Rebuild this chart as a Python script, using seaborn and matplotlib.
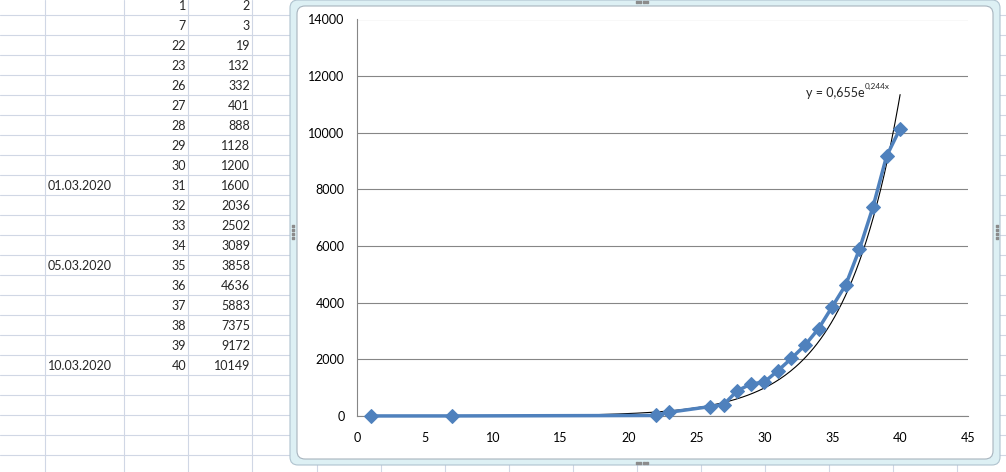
import numpy as np
import matplotlib
matplotlib.use('Agg')
import matplotlib.pyplot as plt
from matplotlib.patches import FancyBboxPatch
import seaborn as sns

# data from the sheet
days = [1, 7, 22, 23, 26, 27, 28, 29, 30, 31, 32, 33, 34, 35, 36, 37, 38, 39, 40]
cases = [2, 3, 19, 132, 332, 401, 888, 1128, 1200, 1600, 2036, 2502, 3089,
         3858, 4636, 5883, 7375, 9172, 10149]
dates = {31: '01.03.2020', 35: '05.03.2020', 40: '10.03.2020'}

# exponential trendline shown on the chart
fit_a = 0.655
fit_b = 0.244
eq_main = 'y = 0,655e'
eq_sup = '0,244x'

x_ticks = list(range(0, 50, 5))
y_ticks = list(range(0, 16000, 2000))

sns.set_style('white')
plt.rcParams['font.family'] = ['Lato', 'DejaVu Sans']

W, H = 1006, 472
fig = plt.figure(figsize=(W / 100, H / 100), dpi=100)

# spreadsheet behind the chart (pixel coordinates)
bg = fig.add_axes([0, 0, 1, 1])
bg.set_xlim(0, W)
bg.set_ylim(H, 0)
bg.axis('off')
grid_col = '#D0D7E5'
for k in range(24):
    bg.axhline(15 + 20 * k, color=grid_col, lw=0.8)
for cx in [45, 124, 188, 252, 317, 381, 445, 509, 573, 637, 701, 765, 829, 893, 957, 1021]:
    bg.axvline(cx, color=grid_col, lw=0.8)

fs = 9.0
for i, (d, c) in enumerate(zip(days, cases)):
    yy = 5.5 + 20 * i
    bg.text(186, yy, str(d), ha='right', va='center', fontsize=fs)
    bg.text(250, yy, str(c), ha='right', va='center', fontsize=fs)
    if d in dates:
        bg.text(48, yy, dates[d], ha='left', va='center', fontsize=fs)

# chart object frame
bg.add_patch(FancyBboxPatch((290, 0), 710, 465, boxstyle='round,pad=0,rounding_size=8',
                            fc='#DDF0F4', ec='#AFC3CF', lw=0.8, zorder=3))
bg.add_patch(FancyBboxPatch((297, 6), 696, 453, boxstyle='round,pad=0,rounding_size=8',
                            fc='white', ec='#A8B4BE', lw=0.8, zorder=4))
# resize handles
hx = [637, 640.5, 644, 647.5, 637, 640.5, 644, 647.5, 293, 293, 293, 293, 997, 997, 997, 997]
hy = [2, 2, 2, 2, 463, 463, 463, 463, 226, 230, 234, 238, 226, 230, 234, 238]
bg.scatter(hx, hy, s=2, marker='s', color='#8C8C8C', zorder=5)

# chart itself
ax = fig.add_axes([357 / W, 1 - 416 / H, 611 / W, (416 - 19.5) / H])
ax.set_facecolor('white')
ax.set_xlim(0, 45)
ax.set_ylim(0, 14000)
ax.set_xticks(x_ticks)
ax.set_yticks(y_ticks)
gc = '#868686'
ax.grid(axis='y', color=gc, lw=0.8)
ax.grid(axis='x', visible=False)
ax.set_axisbelow(True)
for s in ['top', 'right']:
    ax.spines[s].set_visible(False)
for s in ['left', 'bottom']:
    ax.spines[s].set_color(gc)
    ax.spines[s].set_linewidth(0.8)
ax.tick_params(axis='both', direction='out', length=3, width=0.8, color=gc,
               labelsize=fs, labelcolor='black')
ax.tick_params(axis='x', pad=8.5)
ax.tick_params(axis='y', pad=6)

tx = np.linspace(days[0], days[-1], 300)
ax.plot(tx, fit_a * np.exp(fit_b * tx), color='black', lw=0.8, zorder=2.5, clip_on=False)

sns.lineplot(x=days, y=cases, ax=ax, color='#4F81BD', lw=2.5, marker='D',
             markersize=7, markeredgecolor='#4F81BD', clip_on=False, zorder=3)

t = ax.text(33.1, 11400, eq_main, fontsize=fs, ha='left', va='center')
fig.canvas.draw()
bb = t.get_window_extent()
inv = ax.transData.inverted()
x_end = inv.transform((bb.x1, bb.y0))[0]
ax.text(x_end, 11650, eq_sup, fontsize=fs * 0.65, ha='left', va='center')

ax.set_xlabel('')
ax.set_ylabel('')

fig.savefig('out.png', dpi=100)
